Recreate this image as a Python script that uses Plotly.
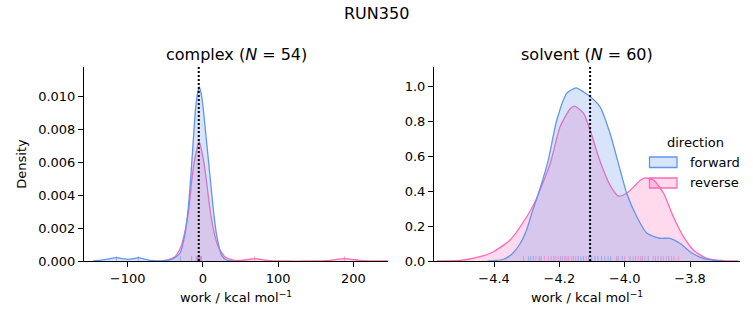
import plotly.graph_objects as go

# ---------------- data ----------------
suptitle = "RUN350"
phases = ["complex", "solvent"]
n_samples = [54, 60]
directions = ["forward", "reverse"]
colors = {"forward": "#6495ED", "reverse": "#FF69B4"}
fills = {"forward": "rgba(100,149,237,0.25)", "reverse": "rgba(255,105,180,0.25)"}

# complex: KDE curves
complex_fwd_x = [-146, -135, -125, -115, -105, -100, -92, -86, -78, -70, -60, -50, -42, -36,
                 -30.5, -24, -19.5, -15.9, -12.9, -9.7, -7, -4.9, -2.5, 0.4, 4.9, 9.3, 13.7,
                 18.2, 24.8, 31.5, 40]
complex_fwd_y = [0, 0.00005, 0.00013, 0.0002, 0.00013, 0.0001, 0.00014, 0.0002, 0.00012, 0.00004,
                 0.00001, 0.00002, 0.0001, 0.00025, 0.00047, 0.00158, 0.00319, 0.00521, 0.00723,
                 0.00925, 0.0102, 0.01056, 0.0102, 0.00925, 0.00723, 0.00521, 0.00319, 0.00158,
                 0.00036, 0.00006, 0]
complex_rev_x = [-60, -48.2, -37.2, -29.2, -23, -18.6, -15, -10.6, -4.9, 0.4, 4.9, 9.3, 13.7,
                 20.3, 29.2, 40.2, 50, 60, 69, 78, 90, 110, 140, 165, 178, 188, 198, 210, 230, 246]
complex_rev_y = [0, 0.00006, 0.00026, 0.00087, 0.00198, 0.00319, 0.0048, 0.00622, 0.00723,
                 0.00622, 0.0048, 0.00319, 0.00198, 0.00087, 0.00026, 0.00006, 0.00003, 0.00008,
                 0.00015, 0.00008, 0.00002, 0, 0, 0.00002, 0.0001, 0.00015, 0.0001, 0.00003, 0, 0]

# solvent: KDE curves
solvent_fwd_x = [-4.42, -4.40, -4.371, -4.345, -4.320, -4.30, -4.285, -4.26, -4.234, -4.208,
                 -4.177, -4.149, -4.125, -4.106, -4.075, -4.045, -4.014, -3.994, -3.963, -3.932,
                 -3.892, -3.861, -3.83, -3.80, -3.76, -3.718, -3.70]
solvent_fwd_y = [0, 0.002, 0.01, 0.04, 0.10, 0.18, 0.27, 0.41, 0.577, 0.806, 0.96, 0.99, 0.965,
                 0.94, 0.88, 0.73, 0.52, 0.387, 0.253, 0.158, 0.13, 0.13, 0.10, 0.053, 0.015,
                 0.002, 0]
solvent_rev_x = [-4.575, -4.504, -4.443, -4.402, -4.351, -4.30, -4.274, -4.228, -4.198, -4.167,
                 -4.154, -4.126, -4.106, -4.075, -4.045, -4.019, -3.994, -3.953, -3.938, -3.912,
                 -3.881, -3.851, -3.820, -3.790, -3.749, -3.698, -3.653]
solvent_rev_y = [0, 0.003, 0.025, 0.053, 0.12, 0.253, 0.34, 0.558, 0.767, 0.87, 0.885, 0.844,
                 0.749, 0.567, 0.434, 0.371, 0.387, 0.46, 0.475, 0.463, 0.387, 0.253, 0.139,
                 0.063, 0.015, 0.002, 0]

# rug samples
complex_fwd_rug = [-115, -86, -30, -15, -9, -7, -6, -5, -4, -3, -2]
complex_rev_rug = [-7, -6, -5.5, -5, -4.5, -4, -3, 69, 188]
solvent_fwd_rug = [-4.295, -4.288, -4.280, -4.262, -4.256, -4.217, -4.196, -4.183, -4.157,
                   -4.142, -4.134, -4.126, -4.111, -4.101, -4.091, -4.082, -4.071, -4.061,
                   -4.051, -4.043, -4.020, -4.008, -3.984, -3.946, -3.928, -3.889, -3.865]
solvent_rev_rug = [-4.310, -4.272, -4.246, -4.234, -4.225, -4.211, -4.203, -4.190, -4.177,
                   -4.172, -4.164, -4.150, -4.118, -4.025, -4.000, -3.974, -3.967, -3.959,
                   -3.952, -3.938, -3.913, -3.906, -3.898, -3.882, -3.872, -3.857, -3.849,
                   -3.836]

# vertical reference (estimate) lines
complex_estimate = -5.5
solvent_estimate = -4.106

complex_xticks = [-100, 0, 100, 200]
complex_yticks = [0.0, 0.002, 0.004, 0.006, 0.008, 0.010]
solvent_xticks = [-4.4, -4.2, -4.0, -3.8]
solvent_yticks = [0.0, 0.2, 0.4, 0.6, 0.8, 1.0]

# ---------------- figure ----------------
W, H = 753, 325
FONT = "DejaVu Sans"
fig = go.Figure()

def add_curve(x, y, d, xa, ya):
    fig.add_trace(go.Scatter(
        x=x, y=y, xaxis=xa, yaxis=ya, mode="lines",
        line=dict(color=colors[d], width=1.3, shape="spline", smoothing=0.6),
        fill="tozeroy", fillcolor=fills[d], showlegend=False, hoverinfo="skip"))

# reverse drawn first so forward sits on top
add_curve(complex_rev_x, complex_rev_y, "reverse", "x", "y")
add_curve(complex_fwd_x, complex_fwd_y, "forward", "x", "y")
add_curve(solvent_rev_x, solvent_rev_y, "reverse", "x2", "y2")
add_curve(solvent_fwd_x, solvent_fwd_y, "forward", "x2", "y2")

shapes = []
rug_cols = {"forward": "rgba(100,149,237,0.6)", "reverse": "rgba(255,105,180,0.6)"}
for vals, d, xr, yr in [(complex_fwd_rug, "forward", "x", "y domain"),
                        (complex_rev_rug, "reverse", "x", "y domain"),
                        (solvent_fwd_rug, "forward", "x2", "y2 domain"),
                        (solvent_rev_rug, "reverse", "x2", "y2 domain")]:
    for v in vals:
        shapes.append(dict(type="line", xref=xr, yref=yr, x0=v, x1=v, y0=0, y1=0.025,
                           line=dict(color=rug_cols[d], width=1), layer="above"))

for v, xr, yr in [(complex_estimate, "x", "y domain"), (solvent_estimate, "x2", "y2 domain")]:
    shapes.append(dict(type="line", xref=xr, yref=yr, x0=v, x1=v, y0=0, y1=1,
                       line=dict(color="black", width=2, dash="2px,2px"), layer="above"))

# legend patches (paper coords)
def px_x(p):
    return p / W

def px_y(p):
    return (H - p) / H

for d, top, bot in [("forward", 157, 167.5), ("reverse", 178, 188)]:
    shapes.append(dict(type="rect", xref="paper", yref="paper",
                       x0=px_x(649.5), x1=px_x(677), y0=px_y(bot), y1=px_y(top),
                       fillcolor=fills[d], line=dict(color=colors[d], width=1.3)))

ydom = [px_y(261), px_y(67)]
axis_common = dict(showgrid=False, zeroline=False, showline=True, linecolor="black",
                   linewidth=1, ticks="outside", ticklen=5, tickwidth=1, tickcolor="black",
                   tickfont=dict(family=FONT, size=13, color="black"), mirror=False)
xtitle = dict(text="work / kcal mol<sup>−1</sup>", font=dict(family=FONT, size=13, color="black"),
              standoff=8)

fig.update_layout(
    width=W, height=H, margin=dict(l=0, r=0, t=0, b=0, autoexpand=False),
    paper_bgcolor="white", plot_bgcolor="white", showlegend=False,
    xaxis=dict(domain=[px_x(84), px_x(388)], range=[-158, 246], tickvals=complex_xticks,
               anchor="y", title=xtitle, **axis_common),
    yaxis=dict(domain=ydom, range=[0, 0.01176], tickvals=complex_yticks, tickformat=".3f",
               anchor="x", title=dict(text="Density", font=dict(family=FONT, size=13, color="black"),
                                      standoff=8), **axis_common),
    xaxis2=dict(domain=[px_x(434), px_x(740)], range=[-4.584, -3.647], tickvals=solvent_xticks,
                tickformat=".1f", anchor="y2", title=xtitle, **axis_common),
    yaxis2=dict(domain=ydom, range=[0, 1.109], tickvals=solvent_yticks, tickformat=".1f",
                anchor="x2", **axis_common),
    shapes=shapes,
)

ann = []
ann.append(dict(text=suptitle, x=px_x(376.5), y=px_y(13), xref="paper", yref="paper",
                showarrow=False, font=dict(family=FONT, size=16, color="black"),
                xanchor="center", yanchor="middle"))
for i, (ph, n) in enumerate(zip(phases, n_samples)):
    cx = (84 + 388) / 2 if i == 0 else (434 + 740) / 2
    ann.append(dict(text=f"{ph} (<i>N</i> = {n})", x=px_x(cx), y=px_y(54), xref="paper",
                    yref="paper", showarrow=False, xanchor="center", yanchor="middle",
                    font=dict(family=FONT, size=16, color="black")))
ann.append(dict(text="direction", x=px_x(695), y=px_y(142), xref="paper", yref="paper",
                showarrow=False, xanchor="center", yanchor="middle",
                font=dict(family=FONT, size=13, color="black")))
for d, yc in [("forward", 162), ("reverse", 183)]:
    ann.append(dict(text=d, x=px_x(688), y=px_y(yc), xref="paper", yref="paper",
                    showarrow=False, xanchor="left", yanchor="middle",
                    font=dict(family=FONT, size=13, color="black")))
fig.update_layout(annotations=ann)

fig.write_html("out.html", config={"displayModeBar": False},
               post_script="document.body.style.margin='0px';")
